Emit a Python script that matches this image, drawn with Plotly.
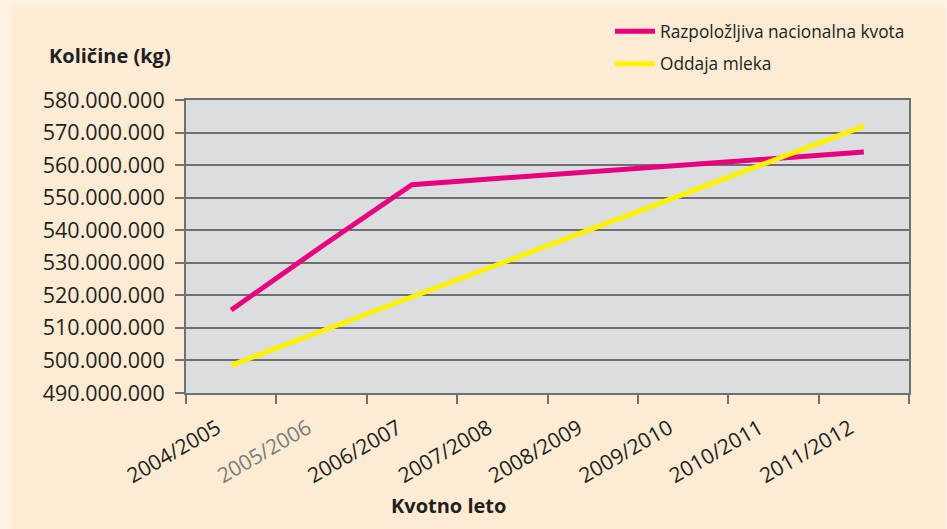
import plotly.graph_objects as go

categories = ["2004/2005", "2005/2006", "2006/2007", "2007/2008",
              "2008/2009", "2009/2010", "2010/2011", "2011/2012"]
tick_labels = ["2004/2005", '<span style="color:#7b7c7e">2005/2006</span>', "2006/2007", "2007/2008",
               "2008/2009", "2009/2010", "2010/2011", "2011/2012"]
kvota = [515_500_000, 535_000_000, 554_000_000, 556_000_000,
         558_000_000, 560_000_000, 562_000_000, 564_000_000]
oddaja = [498_500_000, 509_000_000, 519_500_000, 530_000_000,
          540_500_000, 551_000_000, 561_500_000, 572_000_000]
y_ticks = list(range(490_000_000, 580_000_001, 10_000_000))

W, H = 947, 529
ML, MR, MT, MB = 186, 38, 100, 136
PW, PH = W - ML - MR, H - MT - MB

def px(x):
    return (x - ML) / PW

def py(y):
    return (H - MB - y) / PH

TXT = "#231f20"
GRID = "#6f7072"
FONT = "Open Sans"

fig = go.Figure()
fig.add_trace(go.Scatter(x=categories, y=kvota, mode="lines",
                         name="Razpoložljiva nacionalna kvota",
                         line=dict(color="#e8007f", width=5), legendgroup="a"))
fig.add_trace(go.Scatter(x=categories, y=oddaja, mode="lines",
                         name="Oddaja mleka",
                         line=dict(color="#fff200", width=5), legendgroup="b"))

fig.update_layout(
    width=W, height=H,
    margin=dict(l=ML, r=MR, t=MT, b=MB, autoexpand=False),
    paper_bgcolor="#fdf2e4",
    plot_bgcolor="#dcdddf",
    separators=",.",
    font=dict(family=FONT, color=TXT, size=19),
    shapes=[
        dict(type="rect", xref="paper", yref="paper", layer="below",
             x0=px(11), x1=px(945), y0=py(H + 5), y1=py(6),
             fillcolor="#fdebd3", line=dict(width=0)),
        dict(type="rect", xref="paper", yref="paper", layer="below",
             x0=0, x1=1, y0=0, y1=1,
             fillcolor="#dcdddf", line=dict(width=0)),
    ],
    xaxis=dict(
        type="category", tickson="boundaries", range=[-0.5, 7.5],
        tickmode="array", tickvals=categories, ticktext=tick_labels,
        tickangle=-30, ticks="outside", ticklen=9, tickwidth=2, tickcolor=GRID,
        showline=True, linecolor=GRID, linewidth=2, mirror=True,
        showgrid=False, zeroline=False, automargin=False,
        tickfont=dict(size=21, color=TXT),
        ticklabelshift=-14, ticklabelstandoff=13,
    ),
    yaxis=dict(
        range=[490_000_000, 580_000_000],
        tickmode="array", tickvals=y_ticks, tickformat=",d",
        ticks="outside", ticklen=9, tickwidth=2, tickcolor=GRID,
        showline=True, linecolor=GRID, linewidth=2, mirror=True,
        showgrid=True, gridcolor=GRID, gridwidth=2, zeroline=False,
        automargin=False,
        tickfont=dict(size=21.5, color=TXT), ticklabelstandoff=6,
    ),
    legend=dict(
        x=px(610), y=py(13.5), xanchor="left", yanchor="top",
        bgcolor="rgba(0,0,0,0)", font=dict(size=17.3, color=TXT),
        traceorder="grouped", tracegroupgap=7, itemwidth=40,
    ),
    showlegend=True,
    annotations=[
        dict(text="<b>Količine (kg)</b>", xref="paper", yref="paper",
             x=px(110), y=py(56), xanchor="center", yanchor="middle",
             showarrow=False, font=dict(size=20, color=TXT)),
        dict(text="<b>Kvotno leto</b>", xref="paper", yref="paper",
             x=px(448), y=py(505), xanchor="center", yanchor="middle",
             showarrow=False, font=dict(size=20, color=TXT)),
    ],
)

fig.write_html("out.html", config={"displayModeBar": False},
               post_script="document.body.style.margin='0';document.body.style.overflow='hidden';")
